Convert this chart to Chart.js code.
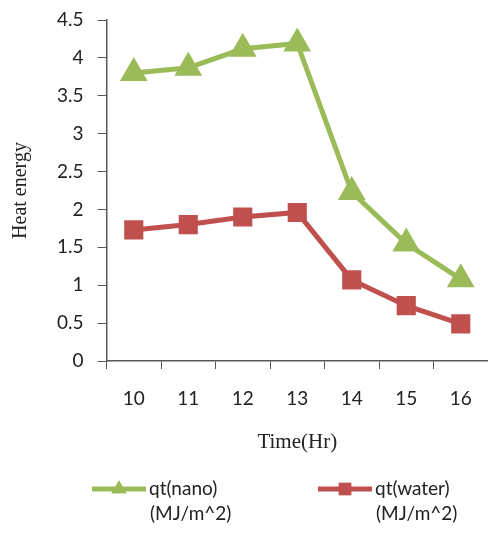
<!DOCTYPE html>
<html>
<head>
<meta charset="utf-8">
<script src="https://cdn.jsdelivr.net/npm/chart.js@4/dist/chart.umd.min.js"></script>
<style>
  html, body { margin: 0; padding: 0; background: #fff; }
  #wrap { width: 488px; height: 537px; }
</style>
</head>
<body>
<div id="wrap"><canvas id="heatChart" width="488" height="537"></canvas></div>
<script>
// data
const hours = ['10', '11', '12', '13', '14', '15', '16'];
const qtNano = [3.80, 3.87, 4.12, 4.19, 2.23, 1.55, 1.08];
const qtWater = [1.73, 1.80, 1.90, 1.96, 1.07, 0.73, 0.49];
const seriesNames = [['qt(nano)', '(MJ/m^2)'], ['qt(water)', '(MJ/m^2)']];

const green = '#9bbb59';
const red = '#c0504d';
const axisGrey = '#595959';

// legend with a line + marker in the middle, two-line text
const bottomLegend = {
    id: 'bottomLegend',
    afterDraw(chart) {
        const ctx = chart.ctx;
        const y0 = chart.height - 48;
        const starts = [92, 318];
        chart.data.datasets.forEach(function(ds, i) {
            const x = starts[i];
            ctx.save();
            ctx.strokeStyle = ds.borderColor;
            ctx.lineWidth = 5;
            ctx.beginPath();
            ctx.moveTo(x, y0);
            ctx.lineTo(x + 54, y0);
            ctx.stroke();
            ctx.fillStyle = ds.backgroundColor;
            Chart.helpers.drawPoint(ctx, { pointStyle: ds.pointStyle, radius: 9, rotation: 0 }, x + 27, y0);
            ctx.fillStyle = '#222';
            ctx.font = '19px Lato';
            ctx.textBaseline = 'middle';
            ctx.textAlign = 'left';
            ctx.fillText(ds.label[0], x + 57, y0);
            ctx.fillText(ds.label[1], x + 58, y0 + 25);
            ctx.restore();
        });
    }
};

const ctx = document.getElementById('heatChart').getContext('2d');
const heatChart = new Chart(ctx, {
    type: 'line',
    data: {
        labels: hours,
        datasets: [{
            label: seriesNames[0],
            data: qtNano,
            borderColor: green,
            backgroundColor: green,
            borderWidth: 5,
            pointStyle: 'triangle',
            pointRadius: 11,
            pointHoverRadius: 11,
            tension: 0
        }, {
            label: seriesNames[1],
            data: qtWater,
            borderColor: red,
            backgroundColor: red,
            borderWidth: 5,
            pointStyle: 'rect',
            pointRadius: 10,
            pointHoverRadius: 10,
            tension: 0
        }]
    },
    options: {
        responsive: false,
        animation: false,
        layout: { autoPadding: false, padding: { top: 0, right: 0, bottom: 82, left: 9 } },
        plugins: {
            legend: { display: false },
            tooltip: { enabled: false }
        },
        scales: {
            x: {
                offset: true,
                afterFit: function(scale) { scale.paddingRight = 0; },
                grid: {
                    offset: true,
                    drawOnChartArea: false,
                    drawTicks: true,
                    tickLength: 8,
                    color: axisGrey
                },
                border: { color: axisGrey, width: 1.5 },
                ticks: { color: '#222', font: { family: 'Lato', size: 19 }, padding: 18 },
                title: {
                    display: true,
                    text: 'Time(Hr)',
                    color: '#222',
                    font: { family: 'Liberation Serif', size: 21 },
                    padding: { top: 2, bottom: 0 }
                }
            },
            y: {
                min: 0,
                max: 4.5,
                afterFit: function(scale) { scale.paddingTop = 20; },
                grid: {
                    drawOnChartArea: false,
                    drawTicks: true,
                    tickLength: 9,
                    color: axisGrey
                },
                border: { color: axisGrey, width: 1.5 },
                ticks: {
                    stepSize: 0.5,
                    color: '#222',
                    font: { family: 'Lato', size: 19 },
                    padding: 14,
                    callback: function(value) { return String(value); }
                },
                title: {
                    display: true,
                    text: 'Heat energy',
                    color: '#222',
                    font: { family: 'Liberation Serif', size: 20 },
                    padding: { top: 0, bottom: 10 }
                }
            }
        }
    },
    plugins: [bottomLegend]
});
</script>
</body>
</html>
